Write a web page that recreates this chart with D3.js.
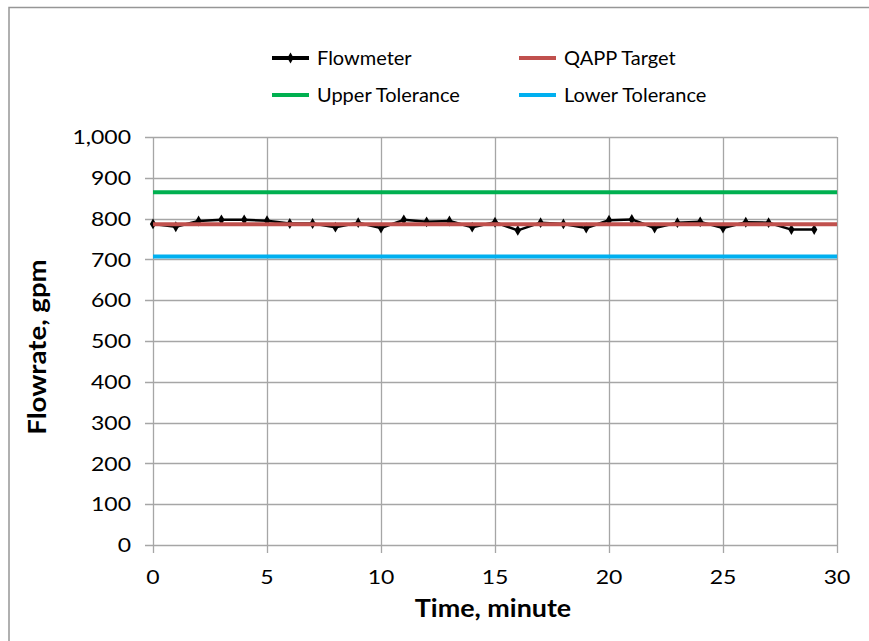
<!DOCTYPE html>
<html><head><meta charset="utf-8">
<script src="https://cdn.jsdelivr.net/npm/d3@7"></script>
<style>body{margin:0;background:#fff}svg{display:block}text{font-family:Lato,"Open Sans",sans-serif}</style>
</head><body><svg id="c" width="869" height="641"></svg>
<script>
const times = d3.range(0, 30);
const flowmeter = [787,780,794,797,797,795,788,788,779,790,777,797,792,794,779,791,771,790,787,777,796,798,777,790,792,777,791,790,773,773];
const targetValue = 786;
const upperValue = 864.6;
const lowerValue = 707.4;
const xTicks = [0,5,10,15,20,25,30];
const yTicks = [0,100,200,300,400,500,600,700,800,900,1000];
const legendItems = ["Flowmeter","QAPP Target","Upper Tolerance","Lower Tolerance"];
const colors = ["#000000","#c0504d","#00b050","#00b0f0"];

const svg = d3.select("#c");
svg.append("path").attr("d","M9,641 L9,7.5 L869,7.5").attr("fill","none").attr("stroke","#969696").attr("stroke-width",1.5);

const x = d3.scaleLinear().domain([0,30]).range([153,837]);
const y = d3.scaleLinear().domain([0,1000]).range([545,137]);

const g = svg.append("g");
g.selectAll(".hg").data(yTicks).join("line").attr("x1",145).attr("x2",837)
  .attr("y1",d=>Math.round(y(d))+0.5).attr("y2",d=>Math.round(y(d))+0.5).attr("stroke","#a6a6a6").attr("stroke-width",1.3);
g.selectAll(".vg").data(xTicks).join("line").attr("y1",137).attr("y2",553)
  .attr("x1",d=>Math.round(x(d))+0.5).attr("x2",d=>Math.round(x(d))+0.5).attr("stroke","#a6a6a6").attr("stroke-width",1.3);

const SX = 1.15;
g.selectAll(".yl").data(yTicks).join("text")
  .attr("transform",d=>`translate(131,${y(d)}) scale(${SX},1)`).attr("dy","0.36em")
  .attr("text-anchor","end").attr("font-size",20).attr("fill","#000").text(d=>d3.format(",")(d));
g.selectAll(".xl").data(xTicks).join("text")
  .attr("transform",d=>`translate(${x(d)},584) scale(${SX},1)`)
  .attr("text-anchor","middle").attr("font-size",20).attr("fill","#000").text(d=>d);

svg.append("text").attr("transform","translate(493,617) scale(1.12,1)").attr("text-anchor","middle").attr("font-size",24).attr("font-weight","bold").text("Time, minute");
svg.append("text").attr("transform","translate(46,347) rotate(-90) scale(1.15,1)").attr("text-anchor","middle").attr("font-size",24).attr("font-weight","bold").text("Flowrate, gpm");

const refs = [upperValue, lowerValue];
const refColors = [colors[2], colors[3]];
refs.forEach((v,i)=>{
  svg.append("line").attr("x1",x(0)).attr("x2",x(30)).attr("y1",y(v)).attr("y2",y(v)).attr("stroke",refColors[i]).attr("stroke-width",4);
});

const line = d3.line().x((d,i)=>x(times[i])).y(d=>y(d));
svg.append("path").datum(flowmeter).attr("d",line).attr("fill","none").attr("stroke","#000").attr("stroke-width",2.5).attr("stroke-linejoin","round");
const diamond = d3.symbol().type(d3.symbolDiamond).size(34);
svg.selectAll(".pt").data(flowmeter).join("path").attr("d",diamond)
  .attr("transform",(d,i)=>`translate(${x(times[i])},${y(d)})`).attr("fill","#000");

svg.append("line").attr("x1",x(0)).attr("x2",x(30)).attr("y1",y(targetValue)).attr("y2",y(targetValue)).attr("stroke",colors[1]).attr("stroke-width",4);

const pos = [[272,58],[519,58],[272,95],[519,95]];
legendItems.forEach((t,i)=>{
  const [lx,ly]=pos[i];
  svg.append("line").attr("x1",lx).attr("x2",lx+37).attr("y1",ly).attr("y2",ly).attr("stroke",colors[i]).attr("stroke-width",4);
  if(i===0) svg.append("path").attr("d",diamond).attr("transform",`translate(${lx+18.5},${ly})`).attr("fill","#000");
  svg.append("text").attr("x",lx+45).attr("y",ly).attr("dy","0.36em").attr("font-size",20).text(t);
});
</script></body></html>
